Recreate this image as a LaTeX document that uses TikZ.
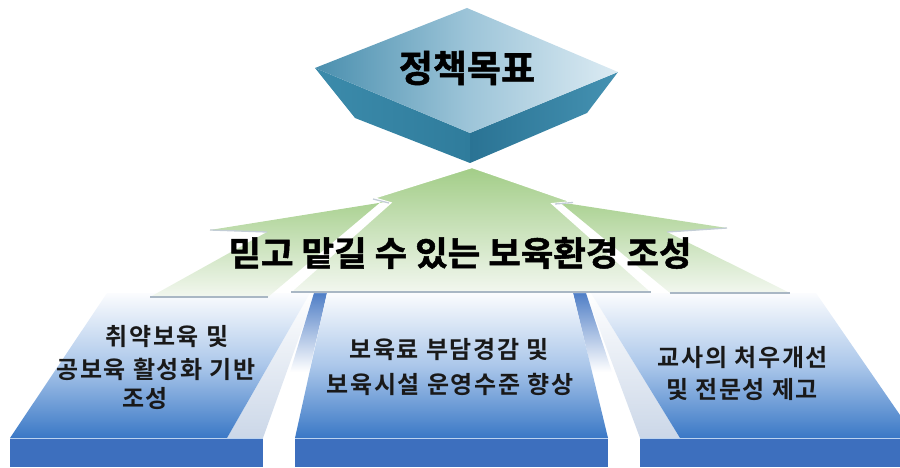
\documentclass[tikz,border=0pt]{standalone}
\usepackage{fontspec}
\setmainfont{Noto Sans CJK KR}
\newfontfamily\heavy{Noto Sans CJK KR}[UprightFont=* Bold, FakeBold=1.4]
\newfontfamily\ptfont{Noto Sans CJK KR}[UprightFont=* Bold, LetterSpace=7]
\definecolor{gtop}{HTML}{A2CD87}
\definecolor{gbot}{HTML}{F2F7EF}
\definecolor{btop}{HTML}{FBFCFE}
\definecolor{bmid}{HTML}{ABC7EA}
\definecolor{bbot}{HTML}{3A78C6}
\definecolor{frontc}{HTML}{3D6FBE}
\definecolor{frontl}{HTML}{BBD3F0}
\definecolor{sidec}{HTML}{CBD7E8}
\definecolor{stripec}{HTML}{4F7EC6}
\definecolor{shadowc}{HTML}{A9B7C4}
\definecolor{dtl}{HTML}{4A8FAE}
\definecolor{dtm}{HTML}{9CC4D8}
\definecolor{dtr}{HTML}{DCEBF3}
\definecolor{dsl}{HTML}{3C8BAB}
\definecolor{dsl2}{HTML}{2F7C9C}
\definecolor{dsr}{HTML}{2A7394}
\definecolor{dsr2}{HTML}{4592B2}
\tikzset{
  garrow/.style={top color=gtop, bottom color=gbot, draw=white, line width=2.2pt, line join=miter},
  topface/.style={top color=btop, bottom color=bbot, middle color=bmid},
  sideface/.style={top color=white, bottom color=sidec},
  stripe/.style={top color=stripec, bottom color=white},
  frontface/.style={fill=frontc},
  shadowline/.style={draw=shadowc, line width=1.3pt},
  ptext/.style={font=\ptfont\fontsize{24}{28}\selectfont, text=black!90, inner sep=0pt},
}
\begin{document}
\begin{tikzpicture}[x=1pt,y=-1pt]
\useasboundingbox (0,0) rectangle (900,468);

% ---- platforms ----
\path[sideface] (310,293) -- (315,293) -- (263,438) -- (227,438) -- cycle;
\path[sideface] (586,293) -- (591,293) -- (680,438) -- (640,438) -- cycle;
\path[stripe] (314,293) -- (327,293) -- (309,372) -- (290,372) -- cycle;
\path[stripe] (573,293) -- (586,293) -- (612,372) -- (592,372) -- cycle;
\path[topface] (107,293) -- (310,293) -- (227,438) -- (10,438) -- cycle;
\path[topface] (327,293) -- (573,293) -- (608,438) -- (295,438) -- cycle;
\path[topface] (591,293) -- (816,293) -- (900,415) -- (900,438) -- (680,438) -- cycle;
\path[frontface] (10,439) rectangle (263,467);
\path[frontface] (295,439) rectangle (608,467);
\path[frontface] (640,439) rectangle (900,467);
\draw[frontl, line width=1pt] (10,438.8) -- (263,438.8);
\draw[frontl, line width=1pt] (295,438.8) -- (608,438.8);
\draw[frontl, line width=1pt] (640,438.8) -- (900,438.8);

% ---- green arrows ----
\path[top color=gtop, bottom color=gbot] (460,190) -- (210,230) -- (267,232) -- (150,297) -- (268,297) -- (383,200) -- cycle;
\draw[shadowline] (150,297) -- (268,297);
\draw[shadowline, draw=shadowc!70] (210,230) -- (267,232);
\path[top color=gtop, bottom color=gbot] (480,190) -- (727,228) -- (667,232) -- (790,293) -- (670,293) -- (557,200) -- cycle;
\draw[shadowline] (670,293) -- (790,293);
\draw[shadowline, draw=shadowc!70] (727,228) -- (667,232);
\path[garrow] (472,167) -- (573,202) -- (553,204) -- (652,292) -- (290,292) -- (390,203) -- (373,198) -- cycle;
\draw[shadowline] (291,292) -- (651,292);
\draw[shadowline, draw=shadowc!70] (373,199) -- (389,203);
\draw[shadowline, draw=shadowc!70] (573,202.5) -- (555,204);

% ---- goal block ----
\path[left color=dsl, right color=dsl2] (315,68) -- (470,133) -- (470,163) -- (355,118) -- cycle;
\path[left color=dsr, right color=dsr2] (470,133) -- (618,72) -- (587,113) -- (470,163) -- cycle;
\path[left color=dtl, right color=dtr, middle color=dtm] (467,8) -- (618,72) -- (470,133) -- (315,68) -- cycle;

% ---- texts ----
\node[font=\heavy\fontsize{37}{40}\selectfont, inner sep=0pt] (goal) at (467,68) {정책목표};
\node[font=\heavy\fontsize{34}{36}\selectfont, inner sep=0pt] (main) at (460,253) {\scalebox{1.04}[1]{믿고 맡길 수 있는 보육환경 조성}};

\node[ptext] (l1) at (167,337) {취약보육 및};
\node[ptext] (l2) at (156,369) {공보육 활성화 기반};
\node[ptext] (l3) at (145,399) {조성};

\node[ptext] (c1) at (449,350) {보육료 부담경감 및};
\node[ptext] (c2) at (450,384) {보육시설 운영수준 향상};

\node[ptext] (r1) at (743,358) {교사의 처우개선};
\node[ptext] (r2) at (742,390) {및 전문성 제고};
\end{tikzpicture}
\end{document}
